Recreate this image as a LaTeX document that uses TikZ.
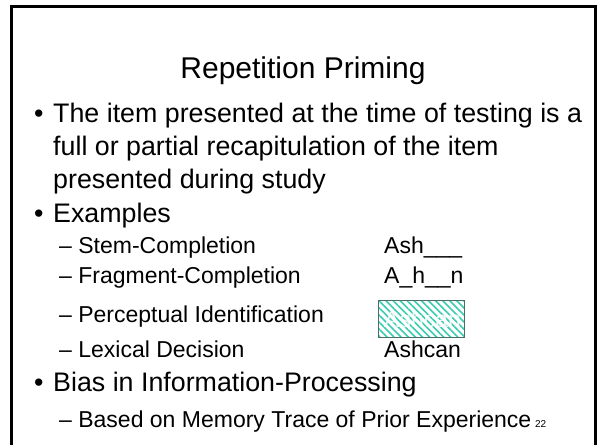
\documentclass[tikz,border=0pt]{standalone}
\usepackage{fontspec}
\setmainfont{Liberation Sans}
\usetikzlibrary{patterns.meta}

\definecolor{hatchteal}{RGB}{58,204,176}
\definecolor{boxedge}{RGB}{72,112,104}

\begin{document}
\begin{tikzpicture}[
		x=1pt,y=-1pt,
		every node/.style={inner sep=0pt,anchor=base west},
		titletext/.style={font=\fontsize{30}{34}\selectfont,anchor=base},
		bodytext/.style={font=\fontsize{26.8}{30}\selectfont},
		subtext/.style={font=\fontsize{23}{27}\selectfont}
		]
		\useasboundingbox (0,0) rectangle (600,445);
		
		% =========================
		% slide frame (open at the bottom)
		% =========================
		\draw[line width=3pt] (11,445) -- (11,6.5) -- (595,6.5) -- (595,445);
		
		% title
		\node[titletext] (title) at (303,78) {Repetition Priming};
		
		% =========================
		% first bullet
		% =========================
		\node[bodytext] (dot1) at (34,122) {•};
		\node[bodytext] (l1) at (53,122) {The item presented at the time of testing is a};
		\node[bodytext] (l2) at (53,155) {full or partial recapitulation of the item};
		\node[bodytext] (l3) at (53,188) {presented during study};
		
		% =========================
		% examples, with the test items on the right
		% =========================
		\node[bodytext] (dot2) at (34,222) {•};
		\node[bodytext] (ex) at (53,222) {Examples};
		
		\node[subtext] (s1) at (59,253) {– Stem-Completion};
		\node[subtext] (s2) at (59,283) {– Fragment-Completion};
		\node[subtext] (s3) at (59,322) {– Perceptual Identification};
		\node[subtext] (s4) at (59,357) {– Lexical Decision};
		
		\node[subtext] (t1) at (384,253) {Ash\_\_\_};
		\node[subtext] (t2) at (384,283) {A\_h\_\_n};
		% masked word
		\fill[white] (378,300) rectangle (464,337);
		\fill[pattern={Lines[angle=-45,distance=5pt,line width=1.6pt]},pattern color=hatchteal]
		(378,300) rectangle (464,337);
		\draw[boxedge,line width=0.8pt] (378,300) rectangle (464,337);
		\node[subtext,text=white,opacity=0.85] (t3) at (384,327) {Ashcan};
		\node[subtext] (t4) at (384,357) {Ashcan};
		
		% =========================
		% last bullet
		% =========================
		\node[bodytext] (dot3) at (34,391) {•};
		\node[bodytext] (bias) at (53,391) {Bias in Information-Processing};
		\node[subtext] (s5) at (59,427) {– Based on Memory Trace of Prior Experience};
		\node[font=\fontsize{10}{12}\selectfont] (num) at (s5.base east) {\,\,22};
		
	\end{tikzpicture}
\end{document}
